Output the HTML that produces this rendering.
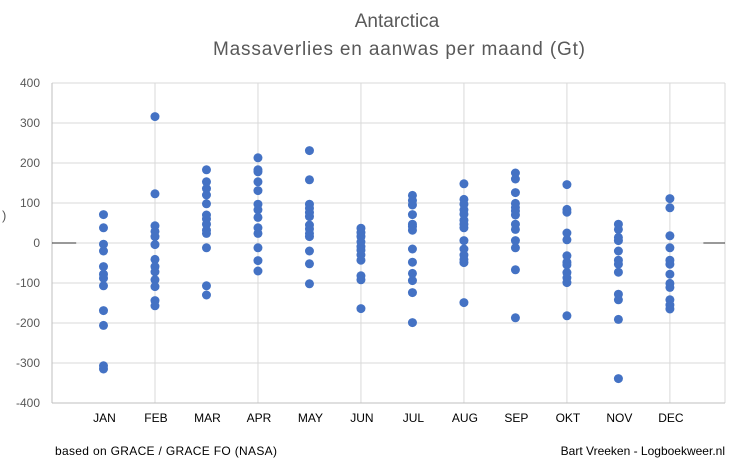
<!DOCTYPE html>
<html><head><meta charset="utf-8">
<style>
html,body{margin:0;padding:0;background:#fff;}
svg{display:block;font-family:"Liberation Sans",sans-serif;}
</style></head>
<body>
<svg id="chart" width="741" height="471" viewBox="0 0 741 471">
  <text x="397" y="27" text-anchor="middle" font-size="19" fill="#595959">Antarctica</text>
  <text x="399" y="55" text-anchor="middle" font-size="19" fill="#595959" textLength="372">Massaverlies en aanwas per maand (Gt)</text>
  <text x="2" y="220" font-size="13" fill="#595959">)</text>
  <g id="grid"></g>
  <g id="yticks"></g>
  <g id="xlabels"></g>
  <g id="points"></g>
  <text x="55" y="455" font-size="12" fill="#000" textLength="222">based on GRACE / GRACE FO  (NASA)</text>
  <text x="725" y="455" text-anchor="end" font-size="12" fill="#000">Bart Vreeken - Logboekweer.nl</text>
</svg>
<script>
const months = ["JAN","FEB","MAR","APR","MAY","JUN","JUL","AUG","SEP","OKT","NOV","DEC"];
const yTicks = [400,300,200,100,0,-100,-200,-300,-400];
const xGridValues = [2,4,6,8,10,12];
const valJan = [71,38,-3,-20,-59,-78,-88,-107,-169,-206,-307,-315];
const valFeb = [316,123,43,29,16,-4,-41,-59,-72,-92,-109,-144,-157];
const valMar = [183,153,136,120,98,70,60,47,32,24,-12,-107,-130];
const valApr = [213,183,178,153,131,97,83,64,38,24,-12,-44,-70];
const valMay = [231,158,97,87,76,66,45,35,24,16,-20,-52,-102];
const valJun = [37,26,16,3,-9,-18,-30,-43,-82,-92,-164];
const valJul = [119,106,95,71,47,41,32,-15,-48,-76,-94,-124,-199];
const valAug = [148,109,97,83,72,57,47,38,6,-15,-30,-41,-49,-149];
const valSep = [175,160,126,99,89,80,70,47,34,6,-12,-67,-187];
const valOkt = [146,84,77,25,8,-32,-48,-55,-74,-87,-99,-182];
const valNov = [47,34,14,6,-20,-43,-53,-73,-128,-142,-191,-339];
const valDec = [111,88,18,-12,-43,-53,-78,-101,-111,-142,-155,-165];
const series = [valJan,valFeb,valMar,valApr,valMay,valJun,valJul,valAug,valSep,valOkt,valNov,valDec];

const L=52,R=725,T=83,B=403,XMAX=13.07,YMIN=-400,YMAX=400;
const x = v => L + (v/XMAX)*(R-L);
const y = v => B - (v-YMIN)/(YMAX-YMIN)*(B-T);
const NS="http://www.w3.org/2000/svg";
function mk(tag, attrs, parent){const e=document.createElementNS(NS,tag);for(const k in attrs)e.setAttribute(k,attrs[k]);parent.appendChild(e);return e;}
const grid=document.getElementById('grid'), yt=document.getElementById('yticks'), xl=document.getElementById('xlabels'), pts=document.getElementById('points');

yTicks.forEach(t=>{
  const ln=mk('line',{x1:L,x2:R,y1:y(t),y2:y(t),stroke:'#d9d9d9','stroke-width':1},grid);
  
  
  const tx=mk('text',{x:40,y:y(t)+4,'text-anchor':'end','font-size':12,fill:'#595959'},yt);
  tx.textContent=t;
  
  
});
xGridValues.forEach(g=>{
  const ln=mk('line',{x1:x(g),x2:x(g),y1:T,y2:B,stroke:'#d9d9d9','stroke-width':1},grid);
  
  
});
const lb=mk('line',{x1:L,x2:L,y1:T,y2:B,stroke:'#bfbfbf','stroke-width':1},grid);


const rb=mk('line',{x1:R,x2:R,y1:T,y2:B,stroke:'#d9d9d9','stroke-width':1},grid);


const bb=mk('line',{x1:L,x2:R,y1:B,y2:B,stroke:'#bfbfbf','stroke-width':1},grid);


const z1=mk('line',{x1:L,x2:x(0.47),y1:y(0),y2:y(0),stroke:'#333','stroke-width':1},grid);


const z2=mk('line',{x1:x(12.65),x2:R,y1:y(0),y2:y(0),stroke:'#333','stroke-width':1},grid);



months.forEach((m,i)=>{
  const tx=mk('text',{x:x(i+1)+1,y:422,'text-anchor':'middle','font-size':12,fill:'#000'},xl);
  tx.textContent=m;
  
  
  series[i].forEach(v=>{
    const c=mk('circle',{cx:x(i+1),cy:y(v),r:4.5,fill:'#4472C4'},pts);
    
    
  });
});
</script>
</body></html>
